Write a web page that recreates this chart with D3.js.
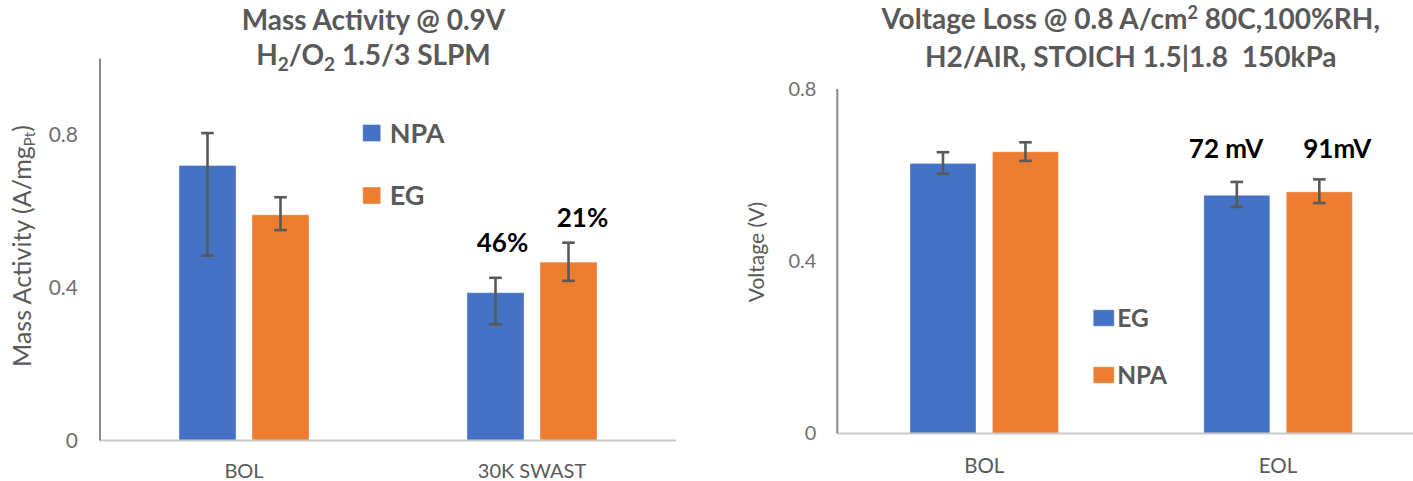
<!DOCTYPE html>
<html>
<head>
<meta charset="utf-8">
<script src="https://cdn.jsdelivr.net/npm/d3@7"></script>
<style>
  html, body { margin: 0; padding: 0; background: #ffffff; }
  svg { display: block; font-family: Lato, "Open Sans", sans-serif; }
</style>
</head>
<body>
<svg id="chart" width="1413" height="481"></svg>
<script>
// ---- Mass activity panel ----
const maCategories = ["BOL", "30K SWAST"];
const maSeries = ["NPA", "EG"];
const maNPA = [0.720, 0.387];
const maEG = [0.591, 0.467];
const maNPAErrUp = [0.085, 0.039];
const maNPAErrDown = [0.236, 0.083];
const maEGErrUp = [0.046, 0.051];
const maEGErrDown = [0.040, 0.049];
const maTicks = [0, 0.4, 0.8];
const maLossLabels = ["46%", "21%"];   // shown over the 30K SWAST bars

// ---- Voltage loss panel ----
const vlCategories = ["BOL", "EOL"];
const vlSeries = ["EG", "NPA"];
const vlEG = [0.627, 0.553];
const vlNPA = [0.654, 0.561];
const vlEGErrUp = [0.026, 0.031];
const vlEGErrDown = [0.024, 0.027];
const vlNPAErrUp = [0.022, 0.029];
const vlNPAErrDown = [0.021, 0.026];
const vlTicks = [0, 0.4, 0.8];
const vlLossLabels = ["72 mV", "91mV"]; // shown over the EOL bars

const BLUE = "#4472C4";
const ORANGE = "#ED7D31";
const TEXT = "#595959";

const svg = d3.select("#chart");

function buildRows(categories, seriesNames, values, ups, downs) {
  return categories.flatMap((c, ci) => seriesNames.map((s, si) => ({
    cat: c, series: s,
    value: values[si][ci], up: ups[si][ci], down: downs[si][ci]
  })));
}

function drawPanel(cfg) {
  const g = svg.append("g");
  const y = d3.scaleLinear().domain(cfg.yDomain).range([cfg.y0, cfg.y1]);
  const x = d3.scaleBand().domain(cfg.categories).range([cfg.xLeft, cfg.xRight]);
  const inner = d3.scaleBand().domain(cfg.series)
    .range([-cfg.groupWidth / 2, cfg.groupWidth / 2]).paddingInner(cfg.innerPad);
  const color = d3.scaleOrdinal().domain(cfg.series).range([BLUE, ORANGE]);
  const cx = d => x(d.cat) + x.bandwidth() / 2 + inner(d.series) + inner.bandwidth() / 2;

  // bars
  g.selectAll("rect.bar").data(cfg.rows).join("rect")
    .attr("class", "bar")
    .attr("x", d => x(d.cat) + x.bandwidth() / 2 + inner(d.series))
    .attr("width", inner.bandwidth())
    .attr("y", d => y(d.value))
    .attr("height", d => y(0) - y(d.value))
    .attr("fill", d => color(d.series))
    .attr("stroke", "#ffffff").attr("stroke-opacity", 0.35).attr("stroke-width", 1);

  // baseline and value axis line
  g.append("line")
    .attr("x1", cfg.xLeft).attr("x2", cfg.baseEnd)
    .attr("y1", y(0)).attr("y2", y(0))
    .attr("stroke", "#c9c9c9").attr("stroke-width", 2);
  g.append("line")
    .attr("x1", cfg.xLeft).attr("x2", cfg.xLeft)
    .attr("y1", y(0)).attr("y2", y(cfg.yDomain[1]))
    .attr("stroke", "#8a8a8a").attr("stroke-width", 2);

  // error bars
  const eb = g.selectAll("g.err").data(cfg.rows).join("g").attr("class", "err")
    .attr("stroke", "#595959").attr("stroke-width", 2.6).attr("fill", "none");
  eb.append("line")
    .attr("x1", cx).attr("x2", cx)
    .attr("y1", d => y(d.value + d.up)).attr("y2", d => y(d.value - d.down));
  eb.append("line")
    .attr("x1", d => cx(d) - 6.3).attr("x2", d => cx(d) + 6.3)
    .attr("y1", d => y(d.value + d.up)).attr("y2", d => y(d.value + d.up));
  eb.append("line")
    .attr("x1", d => cx(d) - 6.3).attr("x2", d => cx(d) + 6.3)
    .attr("y1", d => y(d.value - d.down)).attr("y2", d => y(d.value - d.down));

  // value axis ticks
  const yAxis = g.append("g")
    .attr("transform", `translate(${cfg.xLeft},0)`)
    .call(d3.axisLeft(y).tickValues(cfg.ticks).tickSize(0)
      .tickPadding(cfg.tickPad).tickFormat(d3.format("~g")));
  yAxis.select(".domain").remove();
  yAxis.selectAll("text")
    .attr("fill", "#6f6f6f").attr("font-size", cfg.tickSize)
    .attr("font-family", "Lato, sans-serif");

  // category axis labels
  const xAxis = g.append("g")
    .attr("transform", `translate(0,${cfg.catY})`)
    .call(d3.axisBottom(x).tickSize(0).tickPadding(0));
  xAxis.select(".domain").remove();
  xAxis.selectAll("text")
    .attr("y", 0).attr("dy", "0.35em")
    .attr("fill", TEXT).attr("font-size", cfg.catSize)
    .attr("font-family", "Lato, sans-serif");

  // legend
  const lg = g.append("g").selectAll("g").data(cfg.series).join("g")
    .attr("transform", (d, i) => `translate(${cfg.legendX},${cfg.legendY + i * cfg.legendStep})`);
  lg.append("rect")
    .attr("x", 0).attr("y", -cfg.legendBox[1] / 2)
    .attr("width", cfg.legendBox[0]).attr("height", cfg.legendBox[1])
    .attr("fill", d => color(d))
    .attr("stroke", "#ffffff").attr("stroke-opacity", 0.4).attr("stroke-width", 1);
  lg.append("text")
    .attr("x", cfg.legendBox[0] + cfg.legendGap).attr("dy", "0.36em")
    .attr("fill", TEXT).attr("font-weight", 700).attr("font-size", cfg.legendSize)
    .text(d => d);

  // loss annotations over the last category
  const lastRows = cfg.rows.filter(d => d.cat === cfg.categories[cfg.categories.length - 1]);
  g.selectAll("text.loss").data(lastRows).join("text")
    .attr("class", "loss")
    .attr("x", (d, i) => cx(d) + cfg.lossDx[i])
    .attr("y", (d, i) => y(d.value + d.up) - cfg.lossGap[i])
    .attr("text-anchor", "middle")
    .attr("fill", "#000000").attr("font-weight", 700).attr("font-size", cfg.lossSize)
    .text((d, i) => cfg.lossLabels[i]);

  return { g, y, x };
}

// left panel
const left = drawPanel({
  categories: maCategories, series: maSeries,
  rows: buildRows(maCategories, maSeries, [maNPA, maEG],
    [maNPAErrUp, maEGErrUp], [maNPAErrDown, maEGErrDown]),
  yDomain: [0, 1.0], y0: 440.5, y1: 58.6,
  xLeft: 100, xRight: 676, baseEnd: 676,
  groupWidth: 130, innerPad: 0.219,
  ticks: maTicks, tickPad: 22, tickSize: 21,
  catY: 470.5, catSize: 20,
  legendX: 362.7, legendY: 133, legendStep: 62.5, legendBox: [18, 17], legendGap: 9, legendSize: 27,
  lossLabels: maLossLabels, lossDx: [7, 14], lossGap: [26, 16], lossSize: 26
});

// right panel
const right = drawPanel({
  categories: vlCategories, series: vlSeries,
  rows: buildRows(vlCategories, vlSeries, [vlEG, vlNPA],
    [vlEGErrUp, vlNPAErrUp], [vlEGErrDown, vlNPAErrDown]),
  yDomain: [0, 0.8], y0: 433.5, y1: 88.9,
  xLeft: 837.3, xRight: 1425, baseEnd: 1413,
  groupWidth: 148.5, innerPad: 0.2,
  ticks: vlTicks, tickPad: 21, tickSize: 20,
  catY: 465.5, catSize: 20.5,
  legendX: 1093.2, legendY: 318, legendStep: 57, legendBox: [21, 16.5], legendGap: 3, legendSize: 24.5,
  lossLabels: vlLossLabels, lossDx: [-10.7, 18], lossGap: [24, 21.3], lossSize: 26
});

// titles
const leftTitle = svg.append("text")
  .attr("text-anchor", "middle").attr("fill", TEXT)
  .attr("font-weight", 700).attr("font-size", 28);
leftTitle.append("tspan").attr("x", 373.5).attr("y", 30).text("Mass Activity @ 0.9V");
const lt2 = leftTitle.append("tspan").attr("x", 373.5).attr("y", 65);
lt2.append("tspan").text("H");
lt2.append("tspan").attr("font-size", 19).attr("dy", 6).text("2");
lt2.append("tspan").attr("dy", -6).text("/O");
lt2.append("tspan").attr("font-size", 19).attr("dy", 6).text("2");
lt2.append("tspan").attr("dy", -6).text(" 1.5/3 SLPM");

const rightTitle = svg.append("text")
  .attr("text-anchor", "middle").attr("fill", TEXT)
  .attr("font-weight", 700).attr("font-size", 28)
  .style("white-space", "pre");
const rt1 = rightTitle.append("tspan").attr("x", 1130.7).attr("y", 28.5);
rt1.append("tspan").text("Voltage Loss @ 0.8 A/cm");
rt1.append("tspan").attr("font-size", 18).attr("dy", -10).text("2");
rt1.append("tspan").attr("dy", 10).text(" 80C,100%RH,");
rightTitle.append("tspan").attr("x", 1130.7).attr("y", 66.5)
  .text("H2/AIR, STOICH 1.5|1.8  150kPa");

// value axis titles
const leftAxisTitle = svg.append("text")
  .attr("transform", "translate(31,246) rotate(-90)")
  .attr("text-anchor", "middle").attr("fill", TEXT).attr("font-size", 25);
leftAxisTitle.append("tspan").text("Mass Activity (A/mg");
leftAxisTitle.append("tspan").attr("font-size", 15).attr("dy", 4).text("Pt");
leftAxisTitle.append("tspan").attr("dy", -4).text(")");

svg.append("text")
  .attr("transform", "translate(764,252) rotate(-90)")
  .attr("text-anchor", "middle").attr("fill", TEXT).attr("font-size", 21)
  .text("Voltage (V)");
</script>
</body>
</html>
